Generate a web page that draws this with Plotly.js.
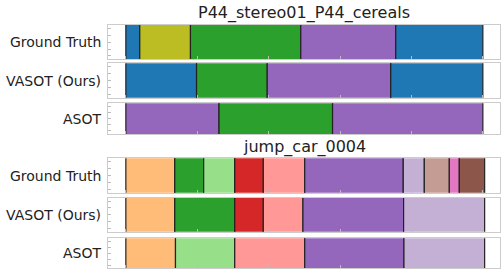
<!DOCTYPE html>
<html>
<head>
<meta charset="utf-8">
<script src="https://cdn.plot.ly/plotly-3.0.1.min.js"></script>
<style>html,body{margin:0;padding:0;background:#fff}#chart{width:503px;height:271px}</style>
</head>
<body>
<div id="chart"></div>
<script>
// ---- data ----
const rowLabels = ["Ground Truth", "VASOT (Ours)", "ASOT"];
const videoTitles = ["P44_stereo01_P44_cereals", "jump_car_0004"];

// segment boundaries (normalised frame position, 0..~100) and action ids per segment
const cerealsGT_bounds    = [0, 3.9, 18.1, 49.0, 75.6, 100];
const cerealsGT_actions   = ["take_bowl", "pour_cereals", "pour_milk", "stir", "take_bowl"];
const cerealsVASOT_bounds = [0, 19.8, 39.6, 74.2, 100];
const cerealsVASOT_actions= ["take_bowl", "pour_milk", "stir", "take_bowl"];
const cerealsASOT_bounds  = [0, 26.1, 57.9, 100];
const cerealsASOT_actions = ["stir", "pour_milk", "stir"];

const carGT_bounds    = [0, 13.7, 21.8, 30.5, 38.5, 50.1, 77.7, 83.6, 90.6, 93.4, 100.5];
const carGT_actions   = ["a1", "a2", "a3", "a4", "a5", "a6", "a7", "a8", "a9", "a10"];
const carVASOT_bounds = [0, 13.7, 30.5, 38.5, 49.6, 77.8, 100.5];
const carVASOT_actions= ["a1", "a2", "a4", "a5", "a6", "a7"];
const carASOT_bounds  = [0, 13.9, 30.5, 50.1, 77.9, 100.5];
const carASOT_actions = ["a1", "a3", "a5", "a6", "a7"];

const xTickVals = [0, 20, 40, 60, 80, 100];

// ---- styles ----
const actionColors = {
  take_bowl: "#1f77b4", pour_cereals: "#bcbd22", pour_milk: "#2ca02c", stir: "#9467bd",
  a1: "#ffbb78", a2: "#2ca02c", a3: "#98df8a", a4: "#d62728", a5: "#ff9896",
  a6: "#9467bd", a7: "#c5b0d5", a8: "#c49c94", a9: "#e377c2", a10: "#8c564b"
};

const rows = [
  [cerealsGT_bounds, cerealsGT_actions],
  [cerealsVASOT_bounds, cerealsVASOT_actions],
  [cerealsASOT_bounds, cerealsASOT_actions],
  [carGT_bounds, carGT_actions],
  [carVASOT_bounds, carVASOT_actions],
  [carASOT_bounds, carASOT_actions]
];

const W = 503, H = 271;
const rowPix = [[25, 59.3], [63.3, 97.7], [103.3, 134], [158.3, 192.7], [197.7, 231.7], [238.3, 268.3]];
const xDom = [108 / W, 500 / W];

const traces = [];
const layout = {
  width: W, height: H,
  margin: {l: 0, r: 0, t: 0, b: 0},
  paper_bgcolor: "#fff", plot_bgcolor: "#fff",
  showlegend: false, barmode: "overlay", bargap: 0,
  font: {family: "DejaVu Sans", color: "#222"},
  annotations: []
};

rows.forEach((r, i) => {
  const [b, acts] = r;
  const n = i + 1;
  const xa = n === 1 ? "x" : "x" + n;
  const ya = n === 1 ? "y" : "y" + n;
  const starts = b.slice(0, -1);
  const widths = starts.map((s, k) => b[k + 1] - s);
  traces.push({
    type: "bar", orientation: "h",
    y: starts.map(() => 0), x: widths, base: starts, width: 1.2,
    marker: {color: acts.map(a => actionColors[a]), line: {color: "#222", width: 1.2}},
    xaxis: xa, yaxis: ya, hoverinfo: "skip"
  });
  const yDom = [1 - rowPix[i][1] / H, 1 - rowPix[i][0] / H];
  layout[n === 1 ? "xaxis" : "xaxis" + n] = {
    domain: xDom, range: [-5, 104.8], anchor: ya,
    showgrid: false, zeroline: false, showticklabels: false,
    tickvals: xTickVals, ticks: "inside", ticklen: 3, tickcolor: "#bbb", tickwidth: 1,
    showline: true, mirror: true, linecolor: "#cccccc", linewidth: 1
  };
  layout[n === 1 ? "yaxis" : "yaxis" + n] = {
    domain: yDom, range: [-0.5, 0.5], anchor: xa,
    showgrid: false, zeroline: false, showticklabels: false,
    tickvals: [-0.4, -0.2, 0, 0.2, 0.4], ticks: "inside", ticklen: 3, tickcolor: "#bbb", tickwidth: 1,
    showline: true, mirror: true, linecolor: "#cccccc", linewidth: 1
  };
  layout.annotations.push({
    xref: "paper", yref: "paper", x: 103 / W, y: (yDom[0] + yDom[1]) / 2,
    xanchor: "right", yanchor: "middle", showarrow: false,
    text: rowLabels[i % 3], font: {size: 14, color: "#222"}
  });
});

layout.annotations.push({
  xref: "paper", yref: "paper", x: 304 / W, y: 1 - 12.5 / H,
  xanchor: "center", yanchor: "middle", showarrow: false,
  text: videoTitles[0], font: {size: 16, color: "#222"}
});
layout.annotations.push({
  xref: "paper", yref: "paper", x: 304 / W, y: 1 - 147 / H,
  xanchor: "center", yanchor: "middle", showarrow: false,
  text: videoTitles[1], font: {size: 16, color: "#222"}
});

Plotly.newPlot("chart", traces, layout, {displayModeBar: false, staticPlot: true});
</script>
</body>
</html>
